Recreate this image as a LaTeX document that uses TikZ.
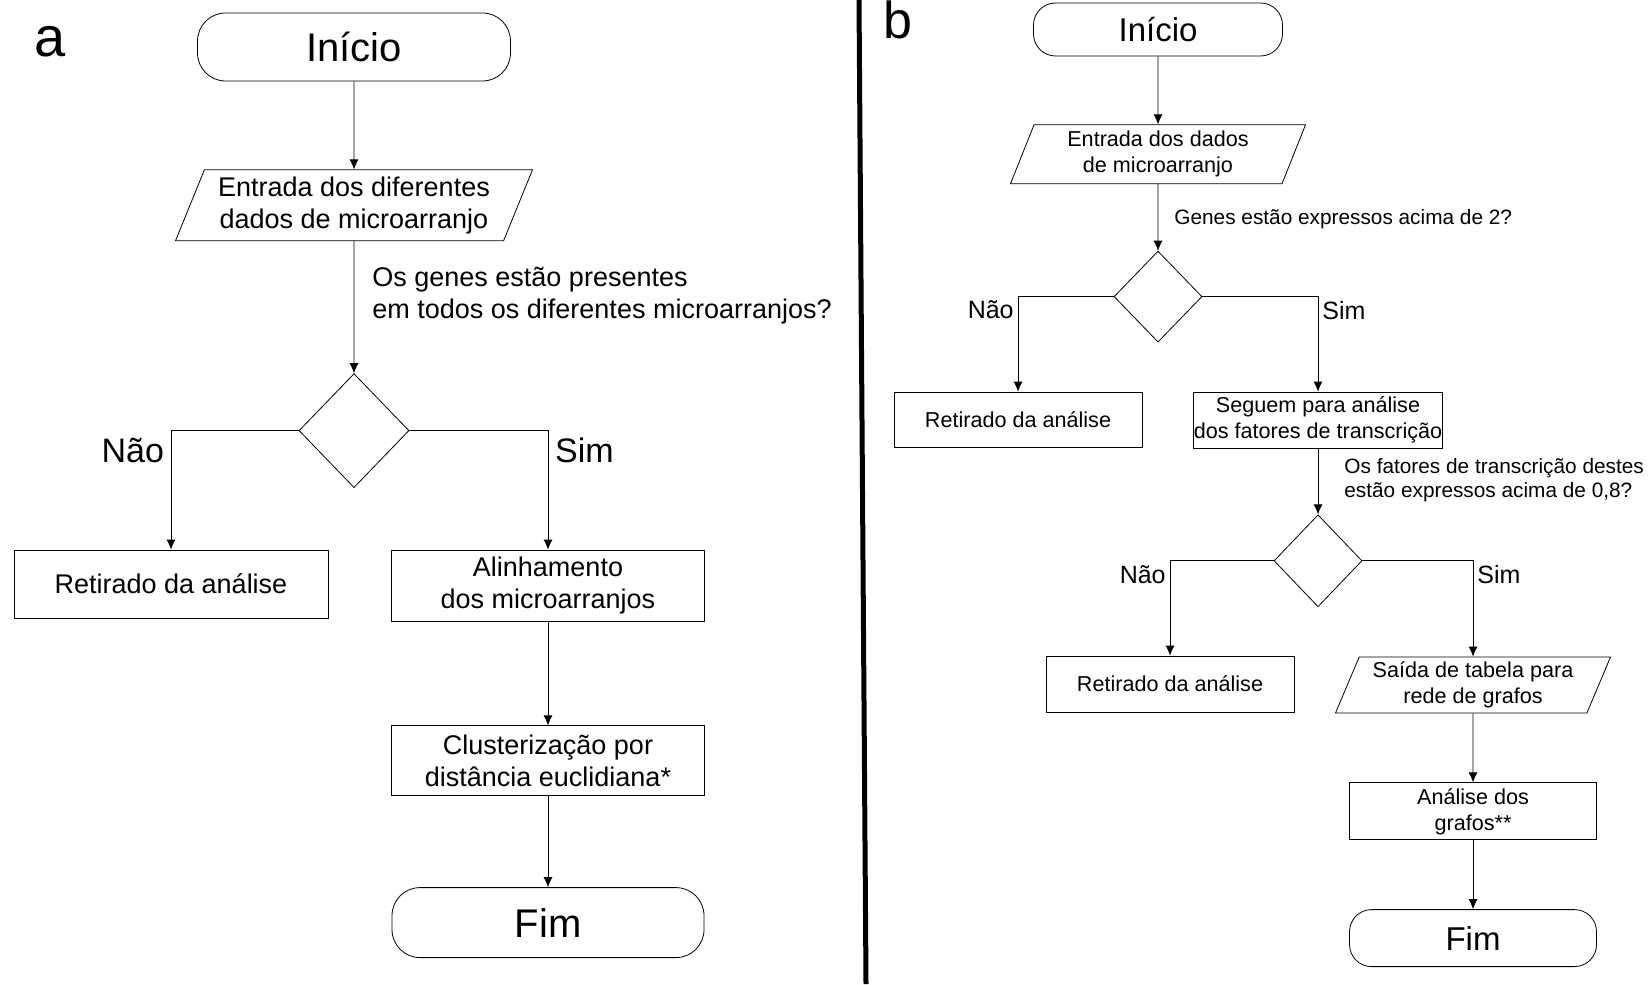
\documentclass[tikz,border=0pt]{standalone}
\usepackage{fontspec}
\setmainfont{Liberation Sans}
\usetikzlibrary{positioning,shapes.geometric,arrows.meta}

\begin{document}
\begin{tikzpicture}[x=1pt, y=1pt, thin, >={Latex[length=5pt,width=4.5pt]},
        term/.style = {draw, rounded corners=14pt},
        io/.style = {draw, trapezium, trapezium left angle=63, trapezium right angle=117, trapezium stretches body, align=center, inner sep=0pt},
        proc/.style = {draw, rectangle, align=center, inner sep=0pt},
        dec/.style = {draw, diamond, inner sep=0pt},
        ask/.style = {align=left, inner sep=0pt},
        big/.style = {font=\fontsize{20}{24}\selectfont},
        txta/.style = {font=\fontsize{13.5}{15.8}\selectfont},
        txtb/.style = {font=\fontsize{10.8}{13}\selectfont},
        qb/.style = {font=\fontsize{10.4}{12}\selectfont},
        answa/.style = {font=\fontsize{17}{20}\selectfont},
        answb/.style = {font=\fontsize{12.5}{15}\selectfont, inner sep=2pt}]
            \useasboundingbox (0,0) rectangle (826,-492);

            % painel a
            \node[font=\fontsize{28}{30}\selectfont, anchor=base] (a) at (25,-28.5) {a};
            \node[term, big, minimum width=156.5pt, minimum height=34pt] (1) at (177,-23.5) {Início};
            \node[io, txta, minimum width=178.5pt, minimum height=35.5pt] (2) [below=44pt of 1] {Entrada dos diferentes\\dados de microarranjo};
            \node[dec, minimum width=55pt, minimum height=57pt] (3) [below=66pt of 2] {};
            \node[proc, txta, minimum width=157pt, minimum height=34pt] (4) at (85.5,-292) {Retirado da análise};
            \node[proc, txta, minimum width=156.5pt, minimum height=35.5pt] (5) at (274,-292.75) {Alinhamento\\dos microarranjos};
            \node[proc, txta, minimum width=156.5pt, minimum height=35pt] (6) [below=52pt of 5] {Clusterização por\\distância euclidiana*};
            \node[term, big, minimum width=156pt, minimum height=35pt] (7) [below=45.5pt of 6] {Fim};

            \draw[->] (1) -- (2);
            \draw[->] (2) -- node[pos=0.41, right=9pt, ask, txta] {Os genes estão presentes\\em todos os diferentes microarranjos?} (3);
            \draw[->] (3.west) -| node[pos=0.5, below left, answa] {Não} (4);
            \draw[->] (3.east) -| node[pos=0.5, below right, answa] {Sim} (5);
            \draw[->] (5) -- (6);
            \draw[->] (6) -- (7);

            % divisao
            \draw[line width=2.5pt] (429.5,0) -- (433,-492);

            % painel b
            \node[font=\fontsize{26}{28}\selectfont, anchor=base] (b) at (449,-19.5) {b};
            \node[term, rounded corners=11pt, font=\fontsize{16.5}{20}\selectfont, minimum width=124.5pt, minimum height=26.5pt] (11) at (579,-14.75) {Início};
            \node[io, txtb, minimum width=147.5pt, minimum height=29.5pt] (12) [below=34pt of 11] {Entrada dos dados\\de microarranjo};
            \node[dec, minimum width=44pt, minimum height=45.5pt] (13) [below=33.25pt of 12] {};
            \node[proc, txtb, minimum width=124pt, minimum height=27.5pt] (14) at (509,-209.75) {Retirado da análise};
            \node[proc, txtb, minimum width=124pt, minimum height=28pt] (15) at (659,-210) {Seguem para análise\\dos fatores de transcrição};
            \node[dec, minimum width=44pt, minimum height=46pt] (16) [below=33pt of 15] {};
            \node[proc, txtb, minimum width=124pt, minimum height=28pt] (17) at (585,-342) {Retirado da análise};
            \node[io, txtb, minimum width=137.5pt, minimum height=28pt] (18) at (736.5,-342.5) {Saída de tabela para\\rede de grafos};
            \node[proc, txtb, minimum width=123.5pt, minimum height=28.5pt] (19) [below=34.5pt of 18] {Análise dos\\grafos**};
            \node[term, rounded corners=11pt, font=\fontsize{16.5}{20}\selectfont, minimum width=123.5pt, minimum height=28.5pt] (20) [below=34.5pt of 19] {Fim};

            \draw[->] (11) -- (12);
            \draw[->] (12) -- node[pos=0.53, right=8pt, ask, qb] {Genes estão expressos acima de 2?} (13);
            \draw[->] (13.west) -| node[pos=0.5, below left, answb] {Não} (14);
            \draw[->] (13.east) -| node[pos=0.5, below right, answb] {Sim} (15);
            \draw[->] (15) -- node[pos=0.48, right=13pt, ask, qb] {Os fatores de transcrição destes\\estão expressos acima de 0,8?} (16);
            \draw[->] (16.west) -| node[pos=0.5, below left, answb] {Não} (17);
            \draw[->] (16.east) -| node[pos=0.5, below right, answb] {Sim} (18);
            \draw[->] (18) -- (19);
            \draw[->] (19) -- (20);
        \end{tikzpicture}
\end{document}
